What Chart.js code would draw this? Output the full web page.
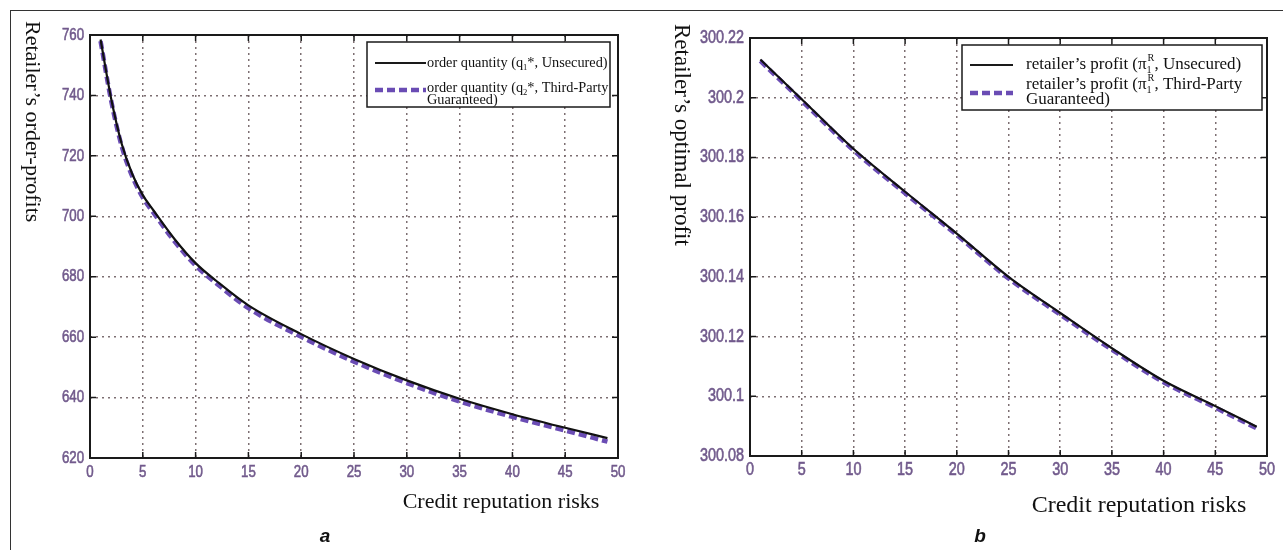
<!DOCTYPE html>
<html>
<head>
<meta charset="utf-8">
<script src="https://cdn.jsdelivr.net/npm/chart.js@4.4.0/dist/chart.umd.min.js"></script>
<style>
  html, body { margin: 0; padding: 0; background: #fff; width: 1283px; height: 550px; overflow: hidden; }
  #frame { position: absolute; left: 10px; top: 10px; width: 1300px; height: 560px; border-left: 1.5px solid #333; border-top: 1.5px solid #333; }
  .box { position: absolute; top: 0; height: 550px; }
</style>
</head>
<body>
<div id="frame"></div>
<div class="box" style="left:0;width:640px"><canvas id="chartA" width="640" height="550"></canvas></div>
<div class="box" style="left:640px;width:643px"><canvas id="chartB" width="643" height="550"></canvas></div>
<script>
// x positions (credit reputation risk) and values
const riskTicks = [0, 5, 10, 15, 20, 25, 30, 35, 40, 45, 50];

const orderX = [1, 2, 3, 4, 5, 6, 8, 10, 12, 15, 20, 25, 30, 35, 40, 45, 49];
const orderUnsecured = [758.5, 739, 724, 714, 707, 702, 692.5, 684.5, 678.5, 670.5, 661, 652.8, 645.7, 639.6, 634.5, 630, 626.6];
const orderGuaranteed = [758, 738.3, 723.2, 713.2, 706.2, 701.2, 691.7, 683.7, 677.7, 669.6, 660.1, 651.9, 644.8, 638.7, 633.6, 629.1, 625.4];
const orderTicks = [620, 640, 660, 680, 700, 720, 740, 760];
const orderTickLabels = ['620', '640', '660', '680', '700', '720', '740', '760'];

const profitX = [1, 5, 10, 15, 20, 25, 30, 35, 40, 45, 49];
const profitUnsecured = [300.2128, 300.1995, 300.1829, 300.1685, 300.1545, 300.1400, 300.1279, 300.1161, 300.1052, 300.0967, 300.0898];
const profitGuaranteed = [300.2123, 300.1990, 300.1824, 300.1680, 300.1540, 300.1395, 300.1274, 300.1156, 300.1047, 300.0962, 300.0893];
const profitTicks = [300.08, 300.1, 300.12, 300.14, 300.16, 300.18, 300.2, 300.22];
const profitTickLabels = ['300.08', '300.1', '300.12', '300.14', '300.16', '300.18', '300.2', '300.22'];

const SERIF = '"Liberation Serif", "Times New Roman", serif';
const SANS = '"Liberation Sans", Arial, sans-serif';
const TICK_COLOR = '#715a8c';
const PURPLE = '#6a4cb4';

function richText(ctx, parts, x, y, size) {
  let cx = x;
  for (const [t, m] of parts) {
    if (m === 'subsup') {
      ctx.font = `${size * 0.6}px ${SERIF}`;
      ctx.fillText(t[0], cx, y + size * 0.3);
      ctx.fillText(t[1], cx + 1, y - size * 0.4);
      cx += Math.max(ctx.measureText(t[0]).width, ctx.measureText(t[1]).width) + 1;
      continue;
    }
    const s = m ? size * 0.6 : size;
    ctx.font = `${s}px ${SERIF}`;
    const dy = m === 'sub' ? size * 0.3 : 0;
    ctx.fillText(t, cx, y + dy);
    cx += ctx.measureText(t).width;
  }
}

// narrow tick label: Liberation Sans squeezed horizontally, slightly heavy
function narrowText(ctx, text, x, y, align, sx) {
  ctx.save();
  ctx.translate(x, y);
  ctx.scale(sx, 1);
  ctx.textAlign = align;
  ctx.fillText(text, 0, 0);
  ctx.strokeText(text, 0, 0);
  ctx.restore();
}

const decorPlugin = {
  id: 'decor',
  afterDatasetsDraw(chart, args, o) {
    const { ctx, chartArea: a, scales } = chart;
    ctx.save();
    ctx.strokeStyle = '#1a1a1a';
    ctx.lineWidth = 1.5;
    ctx.beginPath();
    scales.x.ticks.forEach(t => {
      const px = scales.x.getPixelForValue(t.value);
      ctx.moveTo(px, a.bottom); ctx.lineTo(px, a.bottom - 6);
      ctx.moveTo(px, a.top); ctx.lineTo(px, a.top + 6);
    });
    scales.y.ticks.forEach(t => {
      const py = scales.y.getPixelForValue(t.value);
      ctx.moveTo(a.left, py); ctx.lineTo(a.left + 6, py);
      ctx.moveTo(a.right, py); ctx.lineTo(a.right - 6, py);
    });
    ctx.stroke();
    ctx.lineWidth = 2;
    ctx.strokeRect(a.left, a.top, a.right - a.left, a.bottom - a.top);

    // tick labels
    ctx.fillStyle = TICK_COLOR;
    ctx.strokeStyle = TICK_COLOR;
    ctx.lineWidth = 0.6;
    ctx.textBaseline = 'middle';
    ctx.font = `${o.tickFont}px ${SANS}`;
    scales.x.ticks.forEach((t, i) => {
      narrowText(ctx, String(riskTicks[i]), scales.x.getPixelForValue(t.value), a.bottom + 14, 'center', o.squeeze);
    });
    scales.y.ticks.forEach((t, i) => {
      narrowText(ctx, o.yLabels[i], a.left - 6, scales.y.getPixelForValue(t.value), 'right', o.squeeze);
    });
    ctx.restore();
  },
  afterDraw(chart, args, o) {
    const ctx = chart.ctx;
    ctx.save();
    ctx.fillStyle = '#111';
    ctx.textBaseline = 'middle';
    // y title, reads top to bottom
    ctx.save();
    ctx.translate(o.yTitle.x, o.yTitle.y);
    ctx.rotate(Math.PI / 2);
    ctx.textAlign = 'left';
    ctx.font = `${o.yTitle.size}px ${SERIF}`;
    ctx.fillText(o.yTitle.text, 0, 0);
    ctx.restore();
    // x title
    ctx.textAlign = 'center';
    ctx.font = `${o.xTitle.size}px ${SERIF}`;
    ctx.fillText(o.xTitle.text, o.xTitle.x, o.xTitle.y);
    // panel letter
    ctx.font = `italic bold 19px ${SANS}`;
    ctx.fillText(o.panel.text, o.panel.x, o.panel.y);
    // legend
    const L = o.legend;
    ctx.fillStyle = '#fff';
    ctx.fillRect(L.x, L.y, L.w, L.h);
    ctx.strokeStyle = '#1a1a1a';
    ctx.lineWidth = 1.5;
    ctx.strokeRect(L.x, L.y, L.w, L.h);
    ctx.lineWidth = 2.2;
    ctx.beginPath();
    ctx.moveTo(L.lineX[0], L.row1); ctx.lineTo(L.lineX[1], L.row1);
    ctx.stroke();
    ctx.strokeStyle = PURPLE;
    ctx.lineWidth = 4.5;
    ctx.setLineDash([8, 4]);
    ctx.beginPath();
    ctx.moveTo(L.lineX[0], L.dashY); ctx.lineTo(L.lineX[1], L.dashY);
    ctx.stroke();
    ctx.setLineDash([]);
    ctx.fillStyle = '#111';
    ctx.textAlign = 'left';
    richText(ctx, L.text1, L.textX, L.row1, L.size);
    richText(ctx, L.text2, L.textX, L.row2, L.size);
    richText(ctx, L.text3, L.textX, L.row3, L.size);
    ctx.restore();
  }
};

function makeChart(id, xs, solid, dashed, yTicks, geo, decor) {
  const toPts = ys => xs.map((x, i) => ({ x: x, y: ys[i] }));
  return new Chart(document.getElementById(id), {
    type: 'line',
    data: {
      datasets: [
        { data: toPts(solid), borderColor: '#111', borderWidth: 2.2, pointRadius: 0, cubicInterpolationMode: 'monotone' },
        { data: toPts(dashed), borderColor: PURPLE, borderWidth: 4.5, borderDash: [8, 4], pointRadius: 0, cubicInterpolationMode: 'monotone' }
      ]
    },
    options: {
      responsive: false,
      animation: false,
      layout: { padding: { left: 0, top: geo.top, right: geo.right, bottom: 0 } },
      plugins: { legend: { display: false }, tooltip: { enabled: false }, decor: decor },
      scales: {
        x: {
          type: 'linear', min: 0, max: 50,
          afterBuildTicks: s => { s.ticks = riskTicks.map(v => ({ value: v })); },
          afterFit: s => { s.height = geo.xh; },
          grid: { color: '#7d6f72', lineWidth: 1.5, drawTicks: false },
          border: { display: false, dash: [2, 4] },
          ticks: { display: false }
        },
        y: {
          min: yTicks[0], max: yTicks[yTicks.length - 1],
          afterBuildTicks: s => { s.ticks = yTicks.map(v => ({ value: v })); },
          afterFit: s => { s.width = geo.yw; },
          grid: { color: '#7d6f72', lineWidth: 1.5, drawTicks: false },
          border: { display: false, dash: [2, 4] },
          ticks: { display: false }
        }
      }
    },
    plugins: [decorPlugin]
  });
}

makeChart('chartA', orderX, orderUnsecured, orderGuaranteed, orderTicks,
  { top: 35, right: 22, xh: 92, yw: 90 },
  {
    tickFont: 17, squeeze: 0.78, yLabels: orderTickLabels,
    yTitle: { text: 'Retailer’s order-profits', x: 32, y: 21, size: 22 },
    xTitle: { text: 'Credit reputation risks', x: 501, y: 502, size: 22 },
    panel: { text: 'a', x: 325, y: 537 },
    legend: {
      x: 367, y: 42, w: 243, h: 65, lineX: [375, 426], row1: 63, dashY: 90,
      textX: 427, row2: 88, row3: 100, size: 14.3,
      text1: [['order quantity (q', ''], ['1', 'sub'], ['*, Unsecured)', '']],
      text2: [['order quantity (q', ''], ['2', 'sub'], ['*, Third-Party', '']],
      text3: [['Guaranteed)', '']]
    }
  });

makeChart('chartB', profitX, profitUnsecured, profitGuaranteed, profitTicks,
  { top: 38, right: 16, xh: 94, yw: 110 },
  {
    tickFont: 18, squeeze: 0.8, yLabels: profitTickLabels,
    yTitle: { text: 'Retailer’s optimal profit', x: 41, y: 24, size: 23 },
    xTitle: { text: 'Credit reputation risks', x: 499, y: 506, size: 24 },
    panel: { text: 'b', x: 340, y: 537 },
    legend: {
      x: 322, y: 45, w: 300, h: 65, lineX: [330, 373], row1: 65, dashY: 93,
      textX: 386, row2: 85, row3: 100, size: 17,
      text1: [['retailer’s profit (π', ''], [['1', 'R'], 'subsup'], [', Unsecured)', '']],
      text2: [['retailer’s profit (π', ''], [['1', 'R'], 'subsup'], [', Third-Party', '']],
      text3: [['Guaranteed)', '']]
    }
  });
</script>
</body>
</html>
